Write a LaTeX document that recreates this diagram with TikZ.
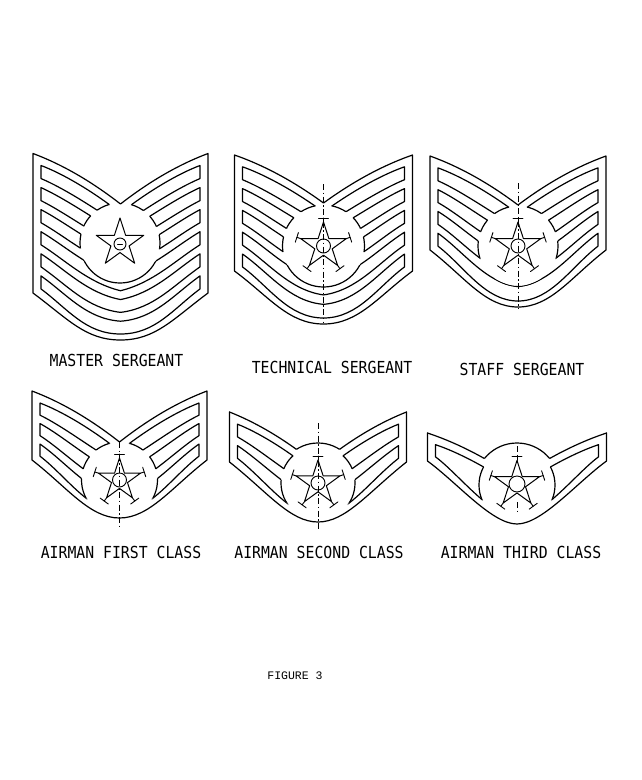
\documentclass[tikz,border=0pt]{standalone}
\usepackage{fontspec}
\usepackage{graphicx}
\usetikzlibrary{calc}
\newfontfamily\lblfont{DejaVu Sans Mono}
\newfontfamily\figfont{Liberation Mono}

\tikzset{
  ol/.style={line width=1.2pt, line join=round, line cap=round},
  thin line/.style={line width=0.9pt, line cap=round},
  cline/.style={line width=0.8pt, dash pattern=on 6pt off 2.5pt on 1.5pt off 2.5pt},
  lbl/.style={font=\lblfont\fontsize{14.8}{16}\selectfont, inner sep=0pt, anchor=center},
}

% badge geometry: cx, U, yTop(side), yV (centre top), ySide(bottom), yBottom(centre), q1dx, q1dy, q2dx
\newcommand\defbadge[9]{%
 \pgfmathsetmacro\bcx{#1}\pgfmathsetmacro\bU{#2}\pgfmathsetmacro\byT{#3}\pgfmathsetmacro\byV{#4}%
 \pgfmathsetmacro\byS{#5}\pgfmathsetmacro\byB{#6}\pgfmathsetmacro\bqx{#7}\pgfmathsetmacro\bqy{#8}\pgfmathsetmacro\bqq{#9}%
 \pgfmathsetmacro\bdT{\byV-\byT}%
 \pgfmathsetmacro\bL{\bcx-\bU}\pgfmathsetmacro\bR{\bcx+\bU}%
 \pgfmathsetmacro\bins{8}\pgfmathsetmacro\bgt{9}\pgfmathsetmacro\bgb{10}\pgfmathsetmacro\bgc{6}%
 \pgfmathsetmacro\bsT{0.65*\bdT/\bU}\pgfmathsetmacro\bsB{\bqy/\bqx}%
 \coordinate (P0) at (\bL,\byT);
 \coordinate (P1) at ({\bL+\bU/3},{\byT+0.65*\bdT/3});
 \coordinate (P2) at ({\bcx-\bU/3},{\byV-1.35*\bdT/3});
 \coordinate (P3) at (\bcx,\byV);
 \coordinate (R0) at (\bR,\byT);
 \coordinate (R1) at ({\bR-\bU/3},{\byT+0.65*\bdT/3});
 \coordinate (R2) at ({\bcx+\bU/3},{\byV-1.35*\bdT/3});
 \coordinate (Q0) at (\bL,\byS);
 \coordinate (Q1) at ({\bL+\bqx},{\byS+\bqy});
 \coordinate (Q2) at ({\bcx-\bqq},\byB);
 \coordinate (Q3) at (\bcx,\byB);
 \coordinate (S0) at (\bR,\byS);
 \coordinate (S1) at ({\bR-\bqx},{\byS+\bqy});
 \coordinate (S2) at ({\bcx+\bqq},\byB);
 \coordinate (A0) at ({\bL+\bins},{\byT+\bgt+\bsT*\bins});
 \coordinate (A1) at ({\bL+\bU/3},{\byT+0.65*\bdT/3+\bgt});
 \coordinate (A2) at ({\bcx-\bU/3},{\byV-1.35*\bdT/3+\bgt});
 \coordinate (A3) at (\bcx,{\byV+\bgt});
 \coordinate (C0) at ({\bR-\bins},{\byT+\bgt+\bsT*\bins});
 \coordinate (C1) at ({\bR-\bU/3},{\byT+0.65*\bdT/3+\bgt});
 \coordinate (C2) at ({\bcx+\bU/3},{\byV-1.35*\bdT/3+\bgt});
 \coordinate (B0) at ({\bL+\bins},{\byS+\bsB*\bins-\bgb});
 \coordinate (B1) at ({\bL+\bqx},{\byS+\bqy-\bgb});
 \coordinate (B2) at ({\bcx-\bqq},{\byB-\bgc});
 \coordinate (B3) at (\bcx,{\byB-\bgc});
 \coordinate (D0) at ({\bR-\bins},{\byS+\bsB*\bins-\bgb});
 \coordinate (D1) at ({\bR-\bqx},{\byS+\bqy-\bgb});
 \coordinate (D2) at ({\bcx+\bqq},{\byB-\bgc});
}
\newcommand\toppath{(P0) .. controls (P1) and (P2) .. (P3) .. controls (R2) and (R1) .. (R0)}
\newcommand\restpath{(R0) -- (S0) .. controls (S1) and (S2) .. (Q3) .. controls (Q2) and (Q1) .. (Q0) -- (P0)}
\newcommand\spath[2]{($(A0)!#1!(B0)$) .. controls ($(A1)!#1!(B1)$) and ($(A2)!#1!(B2)$) .. ($(A3)!#1!(B3)$)
  .. controls ($(C2)!#1!(D2)$) and ($(C1)!#1!(D1)$) .. ($(C0)!#1!(D0)$)
  -- ($(C0)!#2!(D0)$) .. controls ($(C1)!#2!(D1)$) and ($(C2)!#2!(D2)$) .. ($(A3)!#2!(B3)$)
  .. controls ($(A2)!#2!(B2)$) and ($(A1)!#2!(B1)$) .. ($(A0)!#2!(B0)$) -- cycle}

% outline with a V top
\newcommand\plainoutline{\draw[ol] \toppath -- (S0) .. controls (S1) and (S2) .. (Q3) .. controls (Q2) and (Q1) .. (Q0) -- cycle;}
% outline with a dome over the star: #1 x, #2 y, #3 radius
\newcommand\domeoutline[3]{%
 \begin{scope}
  \clip (0,0) -- (642,0) -- (642,780) -- (0,780) -- cycle
        plot[domain=0:360,samples=121] ({#1+#3*cos(\x)},{#2-#3*sin(\x)}) -- cycle;
  \draw[ol] \toppath;
 \end{scope}
 \draw[ol] \restpath;
 \begin{scope}
  \clip \toppath -- (\bR,0) -- (\bL,0) -- cycle;
  \draw[ol] (#1,#2) circle[radius=#3];
 \end{scope}
}
% stripes: #1 number, #2 x, #3 y, #4 radius of the cut round the star
\newcommand\stripes[4]{%
 \pgfmathsetmacro\sL{#1*1.45+(#1-1)}%
 \begin{scope}
  \clip (0,0) -- (642,0) -- (642,780) -- (0,780) -- cycle
        plot[domain=0:360,samples=121] ({#2+#4*cos(\x)},{#3-#4*sin(\x)}) -- cycle;
  \foreach \k in {1,...,#1}{
    \pgfmathsetmacro\ta{(\k-1)*2.45/\sL}
    \pgfmathsetmacro\tb{((\k-1)*2.45+1.45)/\sL}
    \draw[ol] \spath{\ta}{\tb};
  }
 \end{scope}
 \foreach \k in {1,...,#1}{
   \pgfmathsetmacro\ta{(\k-1)*2.45/\sL}
   \pgfmathsetmacro\tb{((\k-1)*2.45+1.45)/\sL}
   \begin{scope}
     \clip \spath{\ta}{\tb};
     \draw[ol] (#2,#3) circle[radius=#4];
   \end{scope}
 }
}
\newcommand\drawstar[3]{%
 \draw[ol,line width=1pt] plot[samples at={0,...,9}]
   ({#1+(1-0.618*mod(\x,2))*#3*cos(-90+36*\x)},{#2+(1-0.618*mod(\x,2))*#3*sin(-90+36*\x)}) -- cycle;
}
\newcommand\starticks[3]{%
 \foreach \a in {-90,-18,54,126,198}{
   \draw[thin line] ({#1+#3*cos(\a)},{#2+#3*sin(\a)}) -- ({#1+(#3+4)*cos(\a)},{#2+(#3+4)*sin(\a)});
   \draw[thin line] ({#1+(#3+4)*cos(\a)-5*sin(\a)},{#2+(#3+4)*sin(\a)+5*cos(\a)})
       -- ({#1+(#3+4)*cos(\a)+5*sin(\a)},{#2+(#3+4)*sin(\a)-5*cos(\a)});
 }
}

\begin{document}
\begin{tikzpicture}[x=1pt,y=-1pt]
\useasboundingbox (0,0) rectangle (642,780);
\fill[white] (0,0) rectangle (642,780);

% ---------- MASTER SERGEANT ----------
\defbadge{120.5}{87.5}{153.5}{204}{293}{340}{35}{26}{35}
\plainoutline
\stripes{6}{120}{243}{40}
\drawstar{120}{243}{25}
\draw[thin line] (120,244) circle[radius=6];
\draw[thin line] (117.5,244) -- (122.5,244);

% ---------- TECHNICAL SERGEANT ----------
\defbadge{323.5}{89}{155}{203}{271}{324}{35}{26}{35}
\plainoutline
\stripes{5}{323.5}{246}{41}
\drawstar{323.5}{246}{24}
\starticks{323.5}{246}{24}
\draw[thin line] (323.5,246) circle[radius=7];
\draw[cline] (323.5,184) -- (323.5,323);

% ---------- STAFF SERGEANT ----------
\defbadge{518}{88}{156}{205}{250}{307}{35}{27}{33}
\plainoutline
\stripes{4}{518}{246}{40}
\drawstar{518}{246}{24}
\starticks{518}{246}{24}
\draw[thin line] (518,246) circle[radius=7];
\draw[cline] (518,183) -- (518,309);

% ---------- AIRMAN FIRST CLASS ----------
\defbadge{119.5}{87.5}{391}{442}{460}{518}{35}{27}{30}
\plainoutline
\stripes{3}{119.5}{480}{38}
\drawstar{119.5}{480}{22}
\starticks{119.5}{480}{22}
\draw[thin line] (119.5,480) circle[radius=7];
\draw[cline] (119.5,442) -- (119.5,528);

% ---------- AIRMAN SECOND CLASS ----------
\defbadge{318}{88.5}{412}{466}{462}{522}{38}{30}{28}
\domeoutline{318}{483}{40}
\stripes{2}{318}{483}{37}
\drawstar{318}{483}{23}
\starticks{318}{483}{23}
\draw[thin line] (318,483) circle[radius=7];
\draw[cline] (318,423) -- (318,530);

% ---------- AIRMAN THIRD CLASS ----------
\defbadge{517}{89.5}{433}{479}{461}{524}{30}{22}{25}
\domeoutline{517}{485}{42}
\stripes{1}{517}{485}{38}
\drawstar{517}{484}{23.5}
\starticks{517}{484}{23.5}
\draw[thin line] (517,484) circle[radius=8];
\draw[cline] (517,446) -- (517,457);
\draw[cline] (517,502) -- (517,512);

% ---------- labels ----------
\node[lbl] (t1) at (116.5,360) {\scalebox{1}[1.12]{MASTER SERGEANT}};
\node[lbl] (t2) at (332,367) {\scalebox{1}[1.12]{TECHNICAL SERGEANT}};
\node[lbl] (t3) at (522,369) {\scalebox{1}[1.12]{STAFF SERGEANT}};
\node[lbl] (t4) at (121,552) {\scalebox{1}[1.12]{AIRMAN FIRST CLASS}};
\node[lbl] (t5) at (319,552) {\scalebox{1}[1.12]{AIRMAN SECOND CLASS}};
\node[lbl] (t6) at (521,552) {\scalebox{1}[1.12]{AIRMAN THIRD CLASS}};
\node[font=\figfont\fontsize{11.5}{12}\selectfont, inner sep=0pt] (fig) at (295,676) {FIGURE 3};
\end{tikzpicture}
\end{document}
